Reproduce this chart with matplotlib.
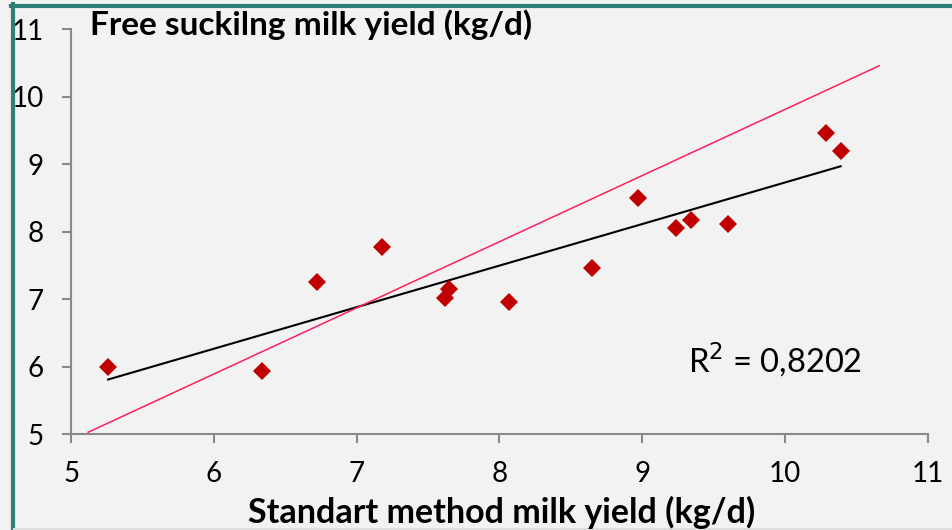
import numpy as np
import matplotlib
matplotlib.use('Agg')
from matplotlib import pyplot as plt
from matplotlib.lines import Line2D

# Standard method milk yield vs free suckling milk yield (kg/d)
standard_yield = [5.26, 6.34, 6.72, 7.18, 7.62, 7.65, 8.07, 8.65, 8.97, 9.24, 9.34, 9.60, 10.29, 10.39]
suckling_yield = [5.99, 5.94, 7.25, 7.77, 7.02, 7.15, 6.96, 7.47, 8.50, 8.05, 8.17, 8.11, 9.46, 9.19]

# reference line drawn by hand in the original chart
ref_x = [5.12, 10.66]
ref_y = [5.03, 10.46]

ticks = [5, 6, 7, 8, 9, 10, 11]
r2_label = 'R$^2$ = 0,8202'
x_title = 'Standart method milk yield (kg/d)'
y_title = 'Free suckilng milk yield (kg/d)'

plt.rcParams['font.family'] = ['Lato', 'DejaVu Sans']
bg = '#f2f2f2'
axis_grey = '#898989'

fig = plt.figure(figsize=(9.52, 5.30), dpi=100, facecolor=bg)
ax = fig.add_axes([0.0746, 0.1806, 0.9, 0.7641])
ax.set_facecolor(bg)

# linear trend line over the data range
xs = np.array(standard_yield)
ys = np.array(suckling_yield)
slope, intercept = np.polyfit(xs, ys, 1)
fit_x = np.array([xs.min(), xs.max()])
ax.plot(fit_x, slope * fit_x + intercept, color='black', lw=1.5, zorder=2)

ax.plot(ref_x, ref_y, color='#ff1f5a', lw=1.1, zorder=2)
ax.plot(standard_yield, suckling_yield, 'D', color='#c00000', ms=9, mew=0, zorder=3)

ax.set_xlim(5, 11)
ax.set_ylim(5, 11)
ax.set_xticks(ticks)
ax.set_yticks(ticks)
ax.set_xticklabels([str(t) for t in ticks])
ax.set_yticklabels([str(t) for t in ticks])

for side in ['top', 'right']:
    ax.spines[side].set_visible(False)
for side in ['left', 'bottom']:
    ax.spines[side].set_color(axis_grey)
    ax.spines[side].set_linewidth(1.5)
ax.tick_params(axis='both', direction='out', length=6.5, width=1.5, color=axis_grey,
               labelsize=20, labelcolor='black')
ax.tick_params(axis='y', pad=13)
ax.tick_params(axis='x', pad=13)

ax.text(10.54, 6.1, r2_label, fontsize=23.5, ha='right', va='center')

fig.text(90 / 952, 1 - 35 / 530, y_title, fontsize=24, fontweight='bold', ha='left', va='baseline')
fig.text(502 / 952, 1 - 523 / 530, x_title, fontsize=24.5, fontweight='bold', ha='center', va='baseline')

# frame pieces of the original slide
teal = '#2f7f79'
fig.add_artist(Line2D([12.5 / 952, 12.5 / 952], [0, 1 - 4 / 530], color=teal, lw=3, transform=fig.transFigure))
fig.add_artist(Line2D([11 / 952, 1], [1 - 6 / 530, 1 - 6 / 530], color=teal, lw=3, transform=fig.transFigure))
fig.add_artist(Line2D([14 / 952, 1], [1 / 530, 1 / 530], color='#dedede', lw=1.5, transform=fig.transFigure))

fig.savefig('out.png', dpi=100, facecolor=bg)
